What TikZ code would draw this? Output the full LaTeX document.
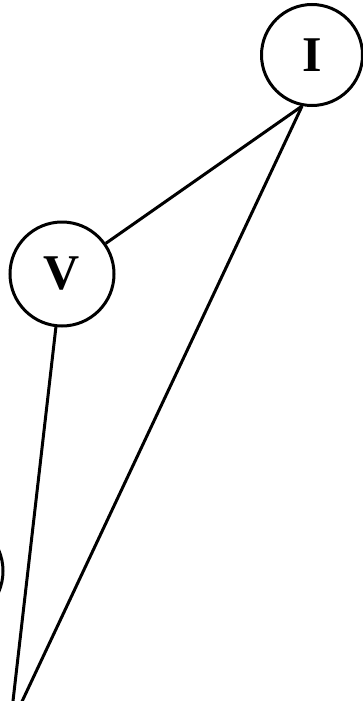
\documentclass[tikz,border=0pt]{standalone}
\usepackage{fontspec}
\setmainfont{Liberation Serif}
\begin{document}
\begin{tikzpicture}[x=1pt,y=-1pt,
  vtx/.style={draw,circle,line width=3pt,minimum size=101pt,inner sep=0pt,
    font=\fontsize{50}{50}\selectfont\bfseries},
  edge/.style={line width=3pt}]
\useasboundingbox (0,0) rectangle (363,701);
\clip (0,0) rectangle (363,701);
\node[vtx] (I) at (312,55) {I};
\node[vtx,minimum size=104pt] (V) at (62,274) {V};
\node[vtx,minimum size=106pt] (L) at (-50,571) {};
\coordinate (B) at (10,727);
\draw[edge] (V) -- (I.259);
\draw[edge] (V) -- (B);
\draw[edge] (I.259) -- (B);
\end{tikzpicture}
\end{document}
